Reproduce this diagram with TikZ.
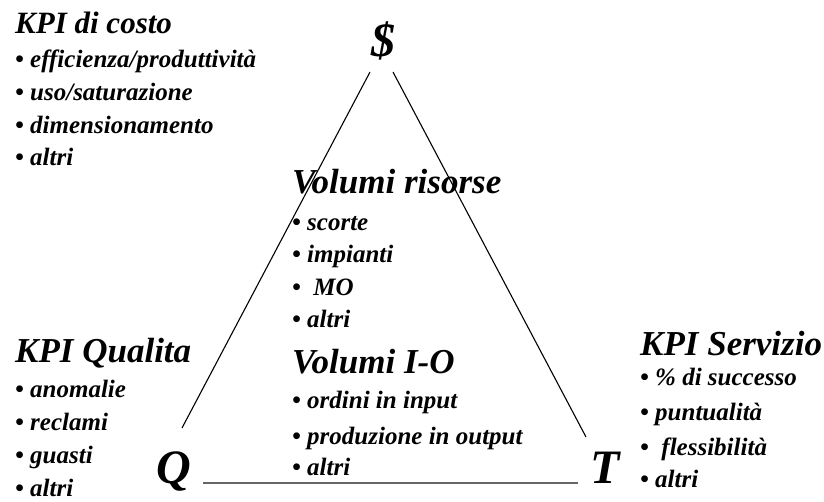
\documentclass[tikz,border=0pt]{standalone}
\usepackage{fontspec}
\setmainfont{Liberation Serif}
\begin{document}
\begin{tikzpicture}[x=1pt,y=-1pt,
  head/.style={anchor=base west,inner sep=0pt,font=\bfseries\itshape\fontsize{35}{37}\selectfont},
  item/.style={anchor=base west,inner sep=0pt,font=\bfseries\itshape\fontsize{25}{27}\selectfont},
  corner/.style={anchor=base,inner sep=0pt,font=\bfseries\itshape\fontsize{48}{50}\selectfont},
  edge/.style={draw=black,line width=1.1pt},
  baseedge/.style={draw=black!60,line width=2pt}]
\useasboundingbox (0,0) rectangle (824,501);
% corners
\node[corner] (D) at (383,56) {\$};
\node[corner] (Q) at (174,483) {Q};
\node[corner] (T) at (605,483) {T};
\coordinate (l1) at (370,72);
\coordinate (l2) at (182,428);
\coordinate (r1) at (393,72);
\coordinate (r2) at (586,437);
\coordinate (b1) at (203,483);
\coordinate (b2) at (578,483);
\draw[edge] (l1) -- (l2);
\draw[edge] (r1) -- (r2);
\draw[baseedge] (b1) -- (b2);
% KPI di costo
\node[head,font=\bfseries\itshape\fontsize{31}{33}\selectfont] (h1) at (15,33) {KPI di costo};
\node[item] (c1) at (15,67) {• efficienza/produttività};
\node[item] (c2) at (15,100) {• uso/saturazione};
\node[item] (c3) at (15,133) {• dimensionamento};
\node[item] (c4) at (15,165) {• altri};
% Volumi risorse
\node[head] (h2) at (292,193) {Volumi risorse};
\node[item] (v1) at (292,230) {• scorte};
\node[item] (v2) at (292,262) {• impianti};
\node[item] (v3) at (292,295) {•~ MO};
\node[item] (v4) at (292,327) {• altri};
% Volumi I-O
\node[head] (h3) at (292,373) {Volumi I-O};
\node[item] (w1) at (292,408) {• ordini in input};
\node[item] (w2) at (292,444) {• produzione in output};
\node[item] (w3) at (292,475) {• altri};
% KPI Qualita
\node[head] (h4) at (15,362) {KPI Qualita};
\node[item] (q1) at (15,397) {• anomalie};
\node[item] (q2) at (15,430) {• reclami};
\node[item] (q3) at (15,463) {• guasti};
\node[item] (q4) at (15,496) {• altri};
% KPI Servizio
\node[head] (h5) at (640,355) {KPI Servizio};
\node[item] (s1) at (640,385) {• \% di successo};
\node[item] (s2) at (640,420) {• puntualità};
\node[item] (s3) at (640,455) {•~ flessibilità};
\node[item] (s4) at (640,487) {• altri};
\end{tikzpicture}
\end{document}
